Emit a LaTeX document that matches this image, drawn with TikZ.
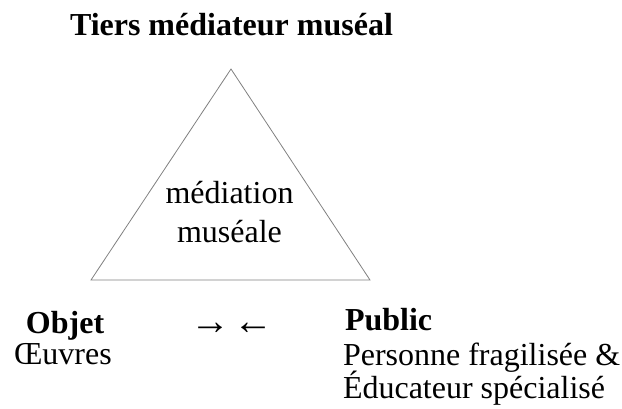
\documentclass[tikz,border=0pt]{standalone}
\usepackage{fontspec}
\setmainfont{Liberation Serif}
\usetikzlibrary{positioning}
\begin{document}
\begin{tikzpicture}[x=1pt, y=-1pt, inner sep=0pt, outer sep=0pt]
    \tikzstyle{titletext} = [font=\fontsize{32}{36}\selectfont\bfseries, anchor=base west]
    \tikzstyle{centertext} = [font=\fontsize{32}{39}\selectfont, align=center]
    \tikzstyle{plaintext} = [font=\fontsize{32}{36}\selectfont, anchor=base west]
    \tikzstyle{boldtext} = [plaintext, font=\fontsize{32}{36}\selectfont\bfseries]
    \tikzstyle{edge} = [draw=black!50, line width=0.8pt]

    \useasboundingbox (0,0) rectangle (622,408);

    % Title
    \node [titletext] (tiers) at (70,35) {Tiers médiateur muséal};

    % Triangle
    \coordinate (apex) at (231,69);
    \coordinate (left) at (91,280);
    \coordinate (right) at (370,280);
    \draw [edge] (apex) -- (left) -- (right) -- cycle;
    \node [centertext, anchor=base] (mediation) at (229.5,242) {médiation\\muséale};

    % Objet
    \node [boldtext] (objet) at (26,333) {Objet};
    \node [plaintext] (oeuvres) at (14,364) {Œuvres};

    % Arrows
    \node [plaintext, font=\fontsize{40}{44}\selectfont] (arrows) at (190,334) {→\hspace{3pt}←};

    % Public
    \node [boldtext] (public) at (345,330) {Public};
    \node [plaintext] (personne) at (343,365) {Personne fragilisée \&};
    \node [plaintext] (educateur) at (343,398) {Éducateur spécialisé};
\end{tikzpicture}
\end{document}
